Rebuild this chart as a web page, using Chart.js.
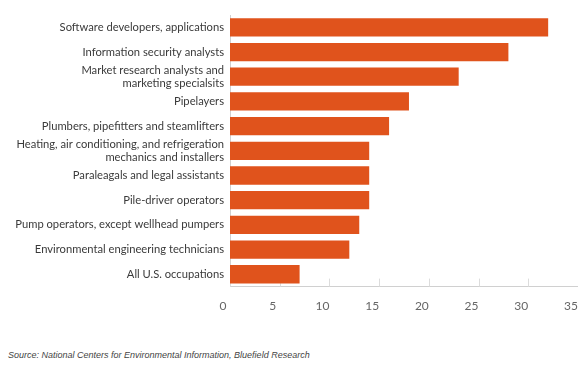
<!DOCTYPE html>
<html>
<head>
<meta charset="utf-8">
<script src="https://cdn.jsdelivr.net/npm/chart.js@4"></script>
<style>
  html, body { margin: 0; padding: 0; background: #fff; overflow: hidden; }
  #wrap { position: absolute; left: 0; top: 0; width: 578px; height: 325px; }
  #source {
    position: absolute; left: 8px; top: 350px;
    font: italic 9px "Liberation Sans", Arial, sans-serif;
    color: #444; white-space: nowrap;
  }
</style>
</head>
<body>
<div id="wrap"><canvas id="chart"></canvas></div>
<div id="source">Source: National Centers for Environmental Information, Bluefield Research</div>
<script>
// --- data ---
const occupations = [
  "Software developers, applications",
  "Information security analysts",
  ["Market research analysts and", "marketing specialsits"],
  "Pipelayers",
  "Plumbers, pipefitters and steamlifters",
  ["Heating, air conditioning, and refrigeration", "mechanics and installers"],
  "Paraleagals and legal assistants",
  "Pile-driver operators",
  "Pump operators, except wellhead pumpers",
  "Environmental engineering technicians",
  "All U.S. occupations"
];
const growth = [32, 28, 23, 18, 16, 14, 14, 14, 13, 12, 7];
const xTicks = [0, 5, 10, 15, 20, 25, 30, 35];

const barColor = "#e0531c";
const axisColor = "#d0d0d0";

// small tick marks drawn inside the plot, above the bottom axis
const innerTicks = {
  id: "innerTicks",
  beforeDatasetsDraw(chart) {
    const { ctx, chartArea, scales } = chart;
    ctx.save();
    ctx.strokeStyle = "#dcdcdc";
    ctx.lineWidth = 1;
    xTicks.forEach(v => {
      const x = Math.round(scales.x.getPixelForValue(v)) + 0.5;
      ctx.beginPath();
      ctx.moveTo(x, chartArea.bottom - 8);
      ctx.lineTo(x, chartArea.bottom);
      ctx.stroke();
    });
    ctx.restore();
  }
};

new Chart(document.getElementById("chart"), {
  type: "bar",
  data: {
    labels: occupations,
    datasets: [{
      data: growth,
      backgroundColor: barColor,
      borderWidth: 0,
      categoryPercentage: 1,
      barPercentage: 0.74
    }]
  },
  options: {
    indexAxis: "y",
    responsive: true,
    maintainAspectRatio: false,
    animation: false,
    layout: { padding: { top: 15, right: 0, bottom: 0, left: 0 } },
    plugins: {
      legend: { display: false },
      tooltip: { enabled: false }
    },
    scales: {
      x: {
        min: 0,
        max: 35,
        afterBuildTicks: s => { s.ticks = xTicks.map(v => ({ value: v })); },
        afterFit: s => { s.paddingLeft = 0; s.paddingRight = 0; },
        grid: { display: false, drawTicks: false },
        border: { display: true, color: axisColor },
        ticks: {
          padding: 12,
          labelOffset: -7,
          color: "#666",
          font: { family: "Lato", size: 12 }
        }
      },
      y: {
        afterFit: s => { s.width = 230; },
        grid: { display: false, drawTicks: false },
        border: { display: true, color: axisColor },
        ticks: {
          autoSkip: false,
          padding: 6,
          color: "#3a3a3a",
          font: { family: "Lato", size: 11.2, lineHeight: 1.15 }
        }
      }
    }
  },
  plugins: [innerTicks]
});
</script>
</body>
</html>
